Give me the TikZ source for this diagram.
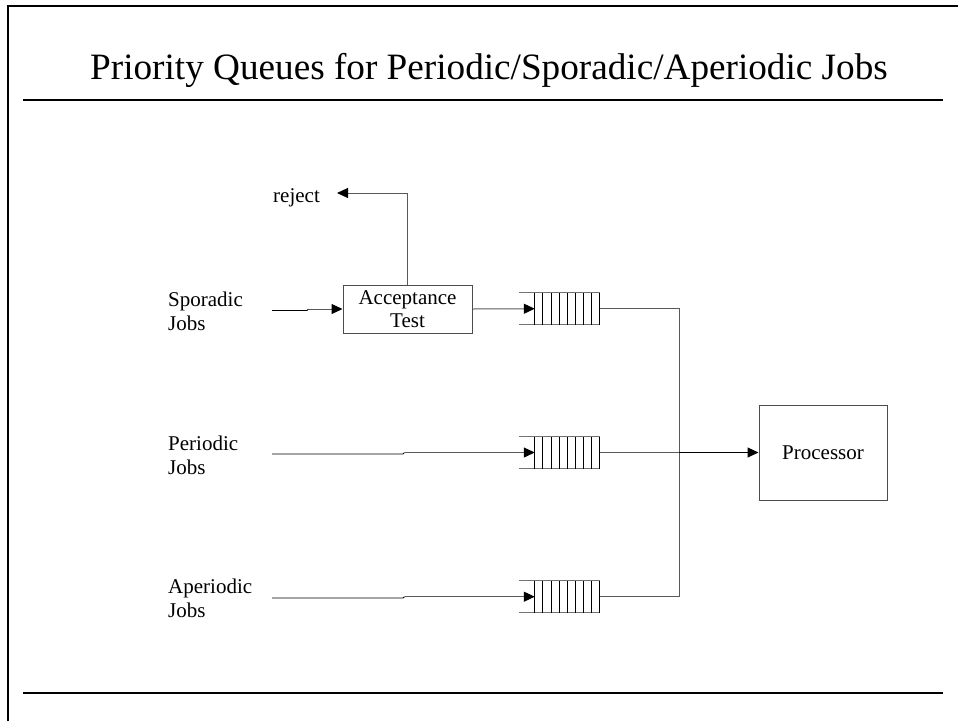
\documentclass[tikz,border=0pt]{standalone}
\usepackage{fontspec}
\setmainfont{Liberation Serif}
\usetikzlibrary{arrows.meta}
\begin{document}
\begin{tikzpicture}[x=1pt,y=-1pt,
  lbl/.style={anchor=base west, inner sep=0pt, font=\fontsize{21}{24}\selectfont},
  conn/.style={draw=black!65, line width=1pt},
  conndark/.style={draw=black, line width=0.9pt},
  arr/.style={-{Triangle[length=11pt,width=10pt,color=black]}},
  boxnode/.style={draw=black!70, line width=1pt, inner sep=0pt, align=center,
    font=\fontsize{21}{24}\selectfont},
  queue/.style={draw=none, minimum width=65pt, minimum height=31.6pt, inner sep=0pt},
  rule/.style={draw=black, line width=2.2pt}]
\useasboundingbox (0,0) rectangle (958,721);
% frame and rules
\draw[line width=2pt] (8.3,721) -- (8.3,5.8) -- (958,5.8);
\coordinate (tl) at (23,100);
\coordinate (tr) at (943,100);
\draw[rule] (tl) -- (tr);
\coordinate (bl) at (23,692.7);
\coordinate (br) at (943,692.7);
\draw[rule] (bl) -- (br);
% title
\node[anchor=base, inner sep=0pt, font=\fontsize{37.2}{44}\selectfont] (title) at (489,79)
  {Priority Queues for Periodic/Sporadic/Aperiodic Jobs};
% labels
\node[lbl] (spor) at (168,306) {\begin{tabular}[t]{@{}l@{}}Sporadic\\Jobs\end{tabular}};
\node[lbl] (peri) at (168,450) {\begin{tabular}[t]{@{}l@{}}Periodic\\Jobs\end{tabular}};
\node[lbl] (aper) at (168,593) {\begin{tabular}[t]{@{}l@{}}Aperiodic\\Jobs\end{tabular}};
\node[lbl] (rej) at (273,202) {reject};
% boxes
\node[boxnode, minimum width=129pt, minimum height=48pt] (acc) at (407.5,309)
  {Acceptance\\[-1pt]Test};
\node[boxnode, minimum width=128pt, minimum height=95pt] (proc) at (823,452.5) {Processor};
% queues
\node[queue] (q1) at (567.5,308.7) {};
\node[queue] (q2) at (567.5,452.5) {};
\node[queue] (q3) at (567.5,596.7) {};
\foreach \q in {q1,q2,q3}{
  \draw[draw=black!55, line width=1pt] ([xshift=-16pt]\q.north west) -- (\q.north east);
  \draw[draw=black!55, line width=1pt] ([xshift=-16pt]\q.south west) -- (\q.south east);
  \foreach \i in {0,...,8}{
    \draw[draw=black, line width=0.8pt] ([xshift=\i*8.07pt]\q.north west) -- ([xshift=\i*8.07pt]\q.south west);
  }
}
% sporadic input
\coordinate (sIn) at (272,310.5);
\coordinate (sA) at (307,310.5);
\coordinate (sB) at (308.5,309);
\draw[conndark] (sIn) -- (sA) -- (sB);
\draw[conn,arr] (sB) -- (acc.west);
% reject
\coordinate (rejtip) at (337,193);
\draw[conn,arr] (acc.north) |- (rejtip);
% acceptance to queue
\draw[conn,arr] (acc.east) -- (q1.west);
% periodic input
\coordinate (pIn) at (272,454);
\coordinate (pA) at (403,454);
\coordinate (pB) at (404.5,452.5);
\draw[conndark] (pIn) -- (pA) -- (pB);
\draw[conn,arr] (pB) -- (q2.west);
% aperiodic input
\coordinate (aIn) at (272,598);
\coordinate (aA) at (403,598);
\coordinate (aB) at (404.5,596.7);
\draw[conndark] (aIn) -- (aA) -- (aB);
\draw[conn,arr] (aB) -- (q3.west);
% outputs
\coordinate (jtop) at (679,308.7);
\coordinate (jmid) at (679,452.5);
\coordinate (jbot) at (679,596.7);
\draw[conn] (q1.east) -- (jtop) -- (jbot) -- (q3.east);
\draw[conn] (q2.east) -- (jmid);
\draw[conndark,line width=1.1pt,arr] (jmid) -- (proc.west);
\end{tikzpicture}
\end{document}
